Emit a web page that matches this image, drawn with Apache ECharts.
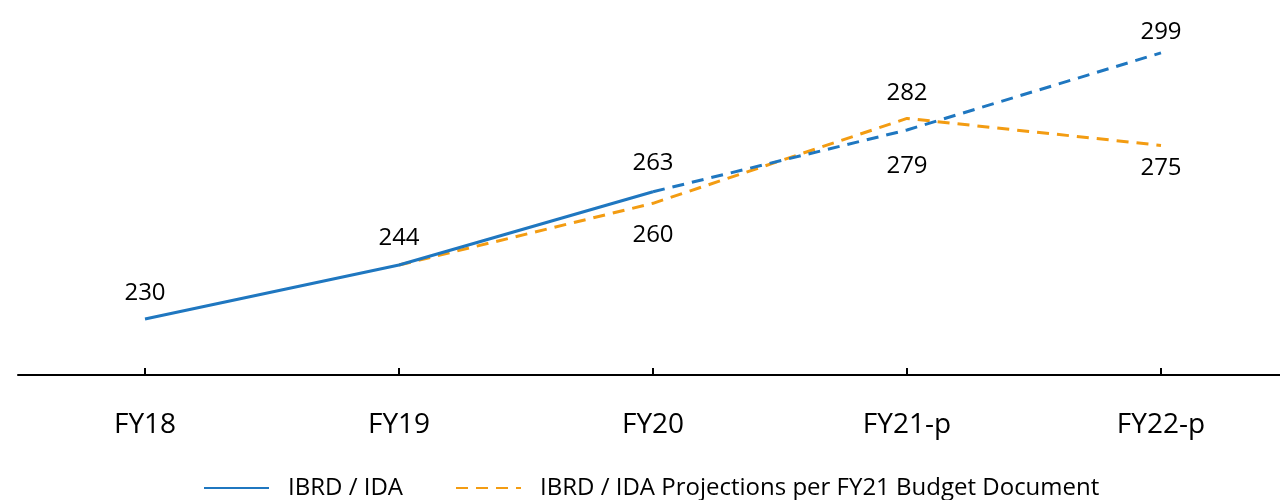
<!DOCTYPE html>
<html>
<head>
<meta charset="utf-8">
<script src="https://cdn.jsdelivr.net/npm/echarts@6/dist/echarts.min.js"></script>
<style>
  html, body { margin: 0; padding: 0; background: #fff; }
  #chart { width: 1280px; height: 500px; }
</style>
</head>
<body>
<div id="chart"></div>
<script>
// chart data
const categories = ['FY18', 'FY19', 'FY20', 'FY21-p', 'FY22-p'];
const actual = [230, 244, 263, null, null];
const actualProjected = [null, null, 263, 279, 299];
const budgetProjection = [null, 244, 260, 282, 275];

const blue = '#1f77c0';
const orange = '#f39c12';
const textColor = '#000';
const fontFamily = '"Open Sans", "Noto Sans", sans-serif';

// label placement per point: [position, distance], null = no label
function withLabels(values, places) {
  return values.map((v, i) => {
    if (v == null) return null;
    const p = places[i];
    if (!p) return { value: v, label: { show: false } };
    return { value: v, label: { show: true, position: p[0], distance: p[1] } };
  });
}

const chart = echarts.init(document.getElementById('chart'));

const labelStyle = {
  color: textColor,
  fontSize: 24,
  fontFamily: fontFamily
};

chart.setOption({
  animation: false,
  grid: { left: 18, width: 1270, top: 10, bottom: 125, outerBoundsMode: 'none' },
  legend: {
    data: ['IBRD / IDA', 'IBRD / IDA Projections per FY21 Budget Document'],
    top: 476,
    left: 203,
    padding: 0,
    itemWidth: 65,
    itemHeight: 14,
    itemGap: 52,
    itemStyle: { opacity: 0 },
    textStyle: { color: textColor, fontSize: 24, fontFamily: fontFamily, padding: [0, 0, 0, 14] }
  },
  xAxis: {
    type: 'category',
    data: categories,
    boundaryGap: true,
    axisLine: { lineStyle: { color: '#000', width: 2 } },
    axisTick: { show: true, alignWithLabel: true, inside: true, length: 7, lineStyle: { color: '#000', width: 2 } },
    axisLabel: { color: textColor, fontSize: 28, fontFamily: fontFamily, margin: 36 },
    splitLine: { show: false }
  },
  yAxis: {
    type: 'value',
    min: 215.5,
    max: 310.1,
    show: false,
    splitLine: { show: false }
  },
  series: [
    {
      name: 'IBRD / IDA Projections per FY21 Budget Document',
      type: 'line',
      symbol: 'circle',
      symbolSize: 0,
      lineStyle: { color: orange, width: 3, type: [12, 8] },
      itemStyle: { color: orange },
      label: labelStyle,
      data: withLabels(budgetProjection, [null, null, ['bottom', 20], ['top', 13], ['bottom', 11]])
    },
    {
      name: 'IBRD / IDA (projected)',
      type: 'line',
      symbol: 'circle',
      symbolSize: 0,
      lineStyle: { color: blue, width: 3, type: [12, 8] },
      itemStyle: { color: blue },
      label: labelStyle,
      data: withLabels(actualProjected, [null, null, null, ['bottom', 24], ['top', 9]])
    },
    {
      name: 'IBRD / IDA',
      type: 'line',
      symbol: 'circle',
      symbolSize: 0,
      lineStyle: { color: blue, width: 3 },
      itemStyle: { color: blue },
      label: labelStyle,
      data: withLabels(actual, [['top', 14], ['top', 15], ['top', 17], null, null])
    }
  ]
});
</script>
</body>
</html>
